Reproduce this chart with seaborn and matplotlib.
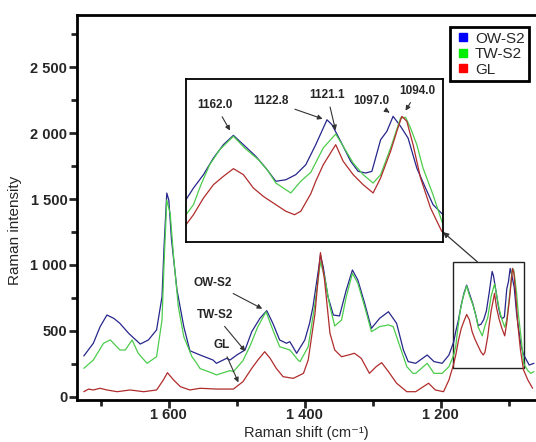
import pandas as pd
import matplotlib
matplotlib.use("Agg")
import matplotlib.pyplot as plt
from matplotlib.patches import Rectangle
from matplotlib.lines import Line2D
import seaborn as sns

# Raman spectra (shift in cm-1, intensity in counts)
ow_shift = [1725, 1711, 1701, 1691, 1681, 1672, 1659, 1642, 1630, 1618, 1610, 1607, 1603, 1600,
            1596, 1588, 1578, 1569, 1554, 1535, 1530, 1515, 1510, 1500, 1488, 1478, 1466, 1456,
            1447, 1437, 1427, 1422, 1412, 1400, 1393, 1388, 1380, 1377, 1373, 1366, 1358, 1349,
            1339, 1330, 1322, 1312, 1302, 1290, 1277, 1265, 1255, 1248, 1237, 1220, 1210, 1198,
            1188, 1181, 1178, 1174, 1170, 1166, 1162, 1158, 1153, 1149, 1145, 1141, 1137, 1133,
            1129, 1124.5, 1122.5, 1119, 1115, 1112, 1109, 1106.5, 1103, 1100.5, 1098, 1095, 1092,
            1088.5, 1085, 1082, 1078, 1070, 1063]
ow_int = [311, 407, 533, 621, 596, 558, 482, 401, 432, 508, 760, 1139, 1545, 1492,
          1189, 811, 533, 350, 318, 280, 255, 293, 280, 318, 356, 495, 596, 654,
          558, 432, 407, 419, 331, 432, 558, 684, 962, 1076, 987, 760, 621, 614,
          811, 962, 886, 710, 520, 596, 646, 558, 356, 268, 255, 318, 268, 255,
          318, 418, 496, 585, 696, 785, 847, 785, 707, 629, 541, 551, 585, 651,
          785, 951, 918, 807, 674, 607, 596, 607, 818, 874, 974, 907, 829,
          629, 496, 385, 318, 242, 255]

tw_shift = [1725, 1711, 1696, 1686, 1672, 1664, 1654, 1645, 1632, 1618, 1610, 1607, 1603, 1598,
            1593, 1586, 1578, 1566, 1559, 1554, 1535, 1530, 1510, 1505, 1491, 1481, 1469, 1457,
            1447, 1437, 1422, 1410, 1407, 1395, 1385, 1377, 1371, 1363, 1356, 1346, 1339, 1330,
            1322, 1312, 1302, 1290, 1277, 1270, 1260, 1250, 1241, 1237, 1220, 1210, 1198, 1188,
            1181, 1178, 1175, 1171.5, 1167.5, 1162, 1157.5, 1152, 1148, 1145, 1139, 1135, 1131,
            1126, 1121, 1118, 1114, 1110, 1106, 1103, 1099, 1095, 1093, 1091, 1088.5, 1086, 1082,
            1078, 1072, 1068, 1063]
tw_int = [217, 280, 407, 432, 356, 356, 432, 331, 255, 305, 583, 1013, 1492, 1392,
          1063, 684, 457, 305, 255, 215, 179, 167, 200, 192, 275, 381, 533, 646,
          508, 381, 356, 280, 268, 381, 710, 1025, 911, 684, 538, 583, 760, 937,
          861, 684, 495, 533, 546, 533, 381, 230, 179, 179, 255, 179, 179, 230,
          318, 385, 518, 651, 751, 841, 763, 685, 607, 529, 463, 541, 600,
          763, 856, 774, 663, 585, 529, 585, 763, 963, 967, 896, 785, 629, 451,
          251, 200, 179, 192]

gl_shift = [1725, 1718, 1711, 1701, 1691, 1676, 1657, 1637, 1618, 1608, 1602, 1593, 1583, 1569,
            1554, 1530, 1505, 1491, 1478, 1469, 1459, 1451, 1442, 1432, 1417, 1402, 1395, 1385,
            1377, 1371, 1363, 1356, 1346, 1336, 1327, 1317, 1305, 1295, 1287, 1277, 1265, 1250,
            1237, 1218, 1208, 1196, 1188, 1181, 1178, 1174, 1170, 1166, 1162, 1158, 1154, 1150,
            1145, 1141, 1137.5, 1135, 1131, 1129, 1126, 1121, 1118, 1114, 1110, 1106, 1103, 1099,
            1096.5, 1094.5, 1092.5, 1090, 1087, 1083, 1078.5, 1072, 1065]
gl_int = [40, 60, 53, 66, 53, 40, 53, 40, 53, 129, 184, 129, 78, 53,
          66, 60, 60, 116, 217, 280, 343, 293, 217, 154, 141, 179, 280, 634,
          1094, 886, 482, 356, 305, 318, 331, 293, 179, 230, 260, 192, 104, 40,
          40, 104, 53, 40, 129, 251, 318, 429, 518, 574, 625, 585, 496, 440,
          385, 341, 318, 341, 457, 541, 651, 785, 674, 585, 518, 463, 563, 741,
          874, 974, 941, 785, 563, 363, 207, 129, 66]

names = ["OW-S2", "TW-S2", "GL"]
line_colors = ["#26268c", "#4ccc4c", "#b02c2c"]
legend_colors = ["#0000ff", "#00ee00", "#ff0000"]

# inset peak labels: text, text position, arrow tip (inset data coords)
peak_labels = ["1162.0", "1122.8", "1121.1", "1097.0", "1094.0"]
peak_text_pos = [(1169.2, 1049), (1146.8, 1076), (1124.4, 1116), (1106.6, 1076), (1088.2, 1143)]
peak_tip_pos = [(1162.8, 863), (1125.2, 951), (1120.8, 863), (1098.5, 989), (1093.6, 996)]

df = pd.concat([
    pd.DataFrame({"shift": ow_shift, "intensity": ow_int, "sample": "OW-S2"}),
    pd.DataFrame({"shift": tw_shift, "intensity": tw_int, "sample": "TW-S2"}),
    pd.DataFrame({"shift": gl_shift, "intensity": gl_int, "sample": "GL"}),
])
pal = dict(zip(names, line_colors))

sns.set_style("ticks")
plt.rcParams["font.family"] = ["Liberation Sans", "DejaVu Sans"]

fig = plt.figure(figsize=(5.36, 4.42), dpi=100)
ax = fig.add_axes([0.1437, 0.095, 0.8563, 0.871])

sns.lineplot(data=df, x="shift", y="intensity", hue="sample", palette=pal,
             estimator=None, sort=False, lw=0.9, legend=False, ax=ax)

ax.set_xlim(1735, 1060)
ax.set_ylim(-23, 2894)
ax.set_xticks([1600, 1400, 1200])
ax.set_xticklabels(["1 600", "1 400", "1 200"])
ax.set_xticks([1700, 1500, 1300, 1100], minor=True)
ax.set_yticks([0, 500, 1000, 1500, 2000, 2500])
ax.set_yticklabels(["0", "500", "1 000", "1 500", "2 000", "2 500"])
ax.set_yticks([250, 750, 1250, 1750, 2250, 2750], minor=True)
ax.tick_params(which="major", direction="out", length=6, width=2, labelsize=10.5, pad=1)
ax.tick_params(axis="x", which="major", pad=0)
ax.tick_params(which="minor", direction="out", length=4, width=2)
for lab in ax.get_xticklabels() + ax.get_yticklabels():
    lab.set_fontweight("bold")
for side in ["left", "top", "bottom"]:
    ax.spines[side].set_linewidth(2)
    ax.spines[side].set_color("black")
ax.spines["right"].set_visible(False)

ax.set_xlabel("Raman shift (cm⁻¹)", fontsize=10.5, va="center")
ax.xaxis.set_label_coords(0.5, -0.085)
ax.set_ylabel("Raman intensity", fontsize=11, va="center")
ax.yaxis.set_label_coords(-0.135, 0.44)

# main-plot labels
ax.annotate("OW-S2", xy=(1459, 659), xytext=(1535, 864), ha="center", va="center",
            fontsize=8.5, fontweight="bold",
            arrowprops=dict(arrowstyle="-|>", color="#333333", lw=0.8, mutation_scale=7))
ax.annotate("TW-S2", xy=(1485, 331), xytext=(1532, 621), ha="center", va="center",
            fontsize=8.5, fontweight="bold",
            arrowprops=dict(arrowstyle="-|>", color="#333333", lw=0.8, mutation_scale=7))
ax.annotate("GL", xy=(1496, 91), xytext=(1522, 394), ha="center", va="center",
            fontsize=8.5, fontweight="bold",
            arrowprops=dict(arrowstyle="-|>", color="#333333", lw=0.8, mutation_scale=7))

# zoom box and arrow to inset
ax.add_patch(Rectangle((1078, 220), 104, 803, fill=False, ec="#222222", lw=1))
ax.annotate("", xy=(0.8265, 0.475), xycoords="figure fraction", xytext=(1146, 1023),
            textcoords="data",
            arrowprops=dict(arrowstyle="-|>", color="#333333", lw=0.9, mutation_scale=8,
                            shrinkA=0, shrinkB=0))

handles = [Line2D([], [], marker="s", ls="", color=c, markersize=6) for c in legend_colors]
leg = ax.legend(handles, names, loc="upper right", bbox_to_anchor=(0.985, 0.969),
                fontsize=11, frameon=True, fancybox=False, framealpha=1,
                handletextpad=0.3, borderpad=0.3, labelspacing=0.1, handlelength=1.0,
                borderaxespad=0)
leg.get_frame().set_edgecolor("black")
leg.get_frame().set_linewidth(2)

# inset
ins = fig.add_axes([0.347, 0.4525, 0.4795, 0.3688])
sns.lineplot(data=df, x="shift", y="intensity", hue="sample", palette=pal,
             estimator=None, sort=False, lw=0.9, legend=False, ax=ins)
ins.set_xlim(1181, 1078)
ins.set_ylim(136, 1223)
ins.set_xticks([])
ins.set_yticks([])
ins.set_xlabel("")
ins.set_ylabel("")
for s in ins.spines.values():
    s.set_linewidth(1.3)
    s.set_color("black")
for lab, tp, hp in zip(peak_labels, peak_text_pos, peak_tip_pos):
    ins.annotate(lab, xy=hp, xytext=tp, ha="center", va="center", fontsize=8.5,
                 fontweight="bold",
                 arrowprops=dict(arrowstyle="-|>", color="#333333", lw=0.8, mutation_scale=7))

fig.savefig("out.png", dpi=100)
